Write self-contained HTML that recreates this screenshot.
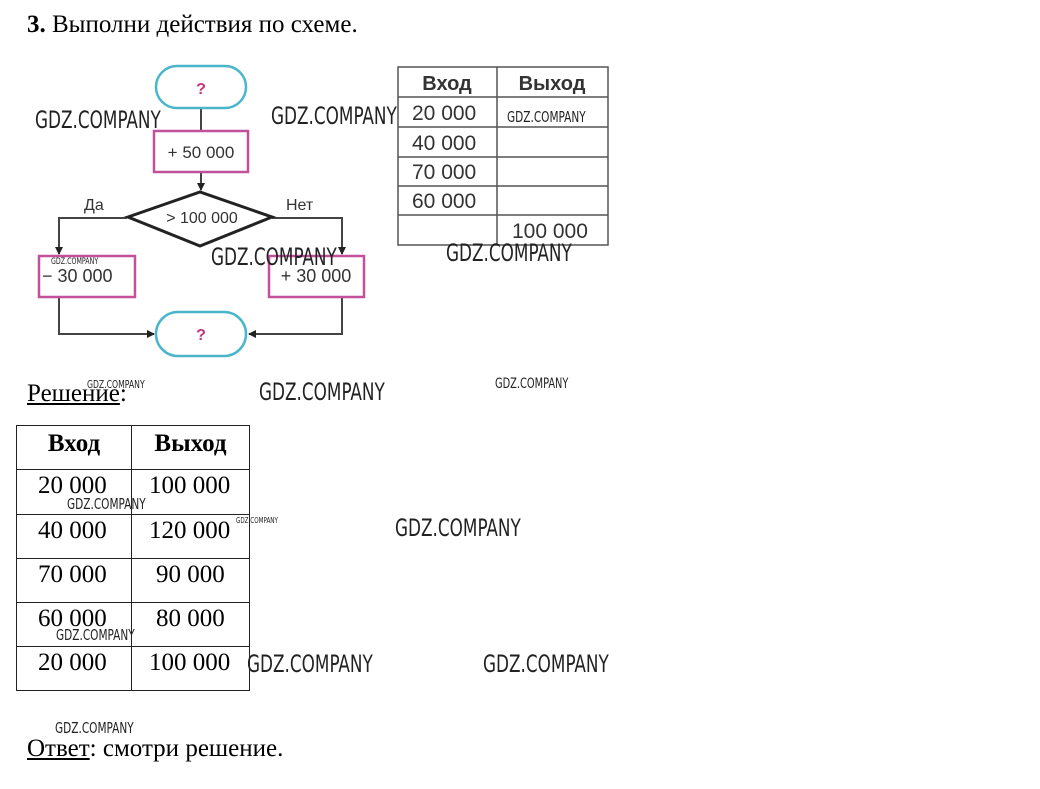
<!DOCTYPE html>
<html><head><meta charset="utf-8"><style>
body{margin:0;width:1040px;height:789px;background:#fff;position:relative;overflow:hidden;font-family:"Liberation Serif",serif;}
.a{position:absolute;white-space:nowrap;}
.wm{position:absolute;white-space:nowrap;font-family:"Liberation Sans Narrow","DejaVu Sans Condensed","Liberation Sans",sans-serif;color:#222;transform-origin:0 0;transform:scaleX(0.78);}
table{border-collapse:collapse;position:absolute;}
.t2 td{border:1.5px solid #222;font-family:"Liberation Serif",serif;font-size:25px;vertical-align:top;padding:0;}
</style></head><body>
<div class="a" style="left:27px;top:11px;font-size:25px;"><b>3.</b> Выполни действия по схеме.</div>

<svg style="position:absolute;left:0;top:0" width="640" height="370" font-family="Liberation Sans, sans-serif">
<defs><marker id="ar" markerWidth="8" markerHeight="8" refX="7" refY="4" orient="auto" markerUnits="userSpaceOnUse"><path d="M0,0 L8,4 L0,8z" fill="#222"/></marker></defs>
<g stroke="#444" stroke-width="2" fill="none">
<line x1="201" y1="108" x2="201" y2="130"/>
<line x1="201" y1="172" x2="201" y2="190" marker-end="url(#ar)"/>
<polyline points="127,218 59,218 59,254" marker-end="url(#ar)"/>
<polyline points="272,218 342,218 342,254" marker-end="url(#ar)"/>
<polyline points="59,297 59,334 154,334" marker-end="url(#ar)"/>
<polyline points="342,297 342,334 249,334" marker-end="url(#ar)"/>
</g>
<rect x="156" y="66" width="90" height="42" rx="21" fill="#fff" stroke="#4ab6cc" stroke-width="2.5"/>
<rect x="156" y="312" width="90" height="44" rx="22" fill="#fff" stroke="#4ab6cc" stroke-width="2.5"/>
<text x="201" y="94" text-anchor="middle" font-size="16" font-weight="bold" fill="#c2357f">?</text>
<text x="201" y="340" text-anchor="middle" font-size="16" font-weight="bold" fill="#c2357f">?</text>
<rect x="154" y="131" width="94" height="41" fill="#fff" stroke="#c2509a" stroke-width="2.5"/>
<text x="201" y="158" text-anchor="middle" font-size="17" fill="#333">+ 50 000</text>
<polygon points="128,217 200,192 272,217 200,246" fill="#fff" stroke="#222" stroke-width="3"/>
<text x="202" y="223" text-anchor="middle" font-size="16" fill="#333">&gt; 100 000</text>
<text x="84" y="210" font-size="16" fill="#333">Да</text>
<text x="286" y="210" font-size="16" fill="#333">Нет</text>
<rect x="39" y="256" width="96" height="41" fill="#fff" stroke="#c2509a" stroke-width="2.5"/>
<text x="42" y="282" font-size="18" fill="#333">− 30 000</text>
<rect x="269" y="256" width="95" height="41" fill="#fff" stroke="#c2509a" stroke-width="2.5"/>
<text x="316" y="282" text-anchor="middle" font-size="18" fill="#333">+ 30 000</text>
<g stroke="#555" stroke-width="1.5" fill="none">
<rect x="398" y="67" width="210" height="178"/>
<line x1="497" y1="67" x2="497" y2="245"/>
<line x1="398" y1="97" x2="608" y2="97"/>
<line x1="398" y1="127" x2="608" y2="127"/>
<line x1="398" y1="157" x2="608" y2="157"/>
<line x1="398" y1="186" x2="608" y2="186"/>
<line x1="398" y1="215" x2="608" y2="215"/>
</g>
<g font-size="21" fill="#333">
<text x="447" y="90" text-anchor="middle" font-weight="bold" font-size="20">Вход</text>
<text x="552" y="90" text-anchor="middle" font-weight="bold" font-size="20">Выход</text>
<text x="412" y="120">20 000</text>
<text x="412" y="150">40 000</text>
<text x="412" y="179">70 000</text>
<text x="412" y="208">60 000</text>
<text x="512" y="238">100 000</text>
</g>
</svg>

<div class="a" style="left:27px;top:380px;font-size:25px;"><u>Решение</u>:</div>

<table class="t2" style="left:16px;top:425px;">
<tr style="height:44px"><td style="width:114px;text-align:center;padding-top:4px"><b>Вход</b></td><td style="width:117px;text-align:center;padding-top:4px"><b>Выход</b></td></tr>
<tr style="height:45px"><td style="padding-left:21px;padding-top:2px">20 000</td><td style="padding-left:17px;padding-top:2px">100 000</td></tr>
<tr style="height:44px"><td style="padding-left:21px;padding-top:2px">40 000</td><td style="padding-left:17px;padding-top:2px">120 000</td></tr>
<tr style="height:44px"><td style="padding-left:21px;padding-top:2px">70 000</td><td style="padding-left:24px;padding-top:2px">90 000</td></tr>
<tr style="height:44px"><td style="padding-left:21px;padding-top:2px">60 000</td><td style="padding-left:24px;padding-top:2px">80 000</td></tr>
<tr style="height:44px"><td style="padding-left:21px;padding-top:2px">20 000</td><td style="padding-left:17px;padding-top:2px">100 000</td></tr>
</table>

<div class="a" style="left:27px;top:735px;font-size:25px;"><u>Ответ</u>: смотри решение.</div>

<div class="wm" style="left:35px;top:106px;font-size:24px">GDZ.COMPANY</div>
<div class="wm" style="left:271px;top:102px;font-size:24px">GDZ.COMPANY</div>
<div class="wm" style="left:507px;top:108px;font-size:15px">GDZ.COMPANY</div>
<div class="wm" style="left:211px;top:243px;font-size:24px">GDZ.COMPANY</div>
<div class="wm" style="left:446px;top:239px;font-size:24px">GDZ.COMPANY</div>
<div class="wm" style="left:51px;top:257px;font-size:9px">GDZ.COMPANY</div>
<div class="wm" style="left:87px;top:378px;font-size:11px">GDZ.COMPANY</div>
<div class="wm" style="left:259px;top:378px;font-size:24px">GDZ.COMPANY</div>
<div class="wm" style="left:495px;top:376px;font-size:14px">GDZ.COMPANY</div>
<div class="wm" style="left:67px;top:495px;font-size:15px">GDZ.COMPANY</div>
<div class="wm" style="left:236px;top:516px;font-size:8px">GDZ.COMPANY</div>
<div class="wm" style="left:395px;top:514px;font-size:24px">GDZ.COMPANY</div>
<div class="wm" style="left:56px;top:626px;font-size:15px">GDZ.COMPANY</div>
<div class="wm" style="left:247px;top:650px;font-size:24px">GDZ.COMPANY</div>
<div class="wm" style="left:483px;top:650px;font-size:24px">GDZ.COMPANY</div>
<div class="wm" style="left:55px;top:719px;font-size:15px">GDZ.COMPANY</div>
</body></html>
